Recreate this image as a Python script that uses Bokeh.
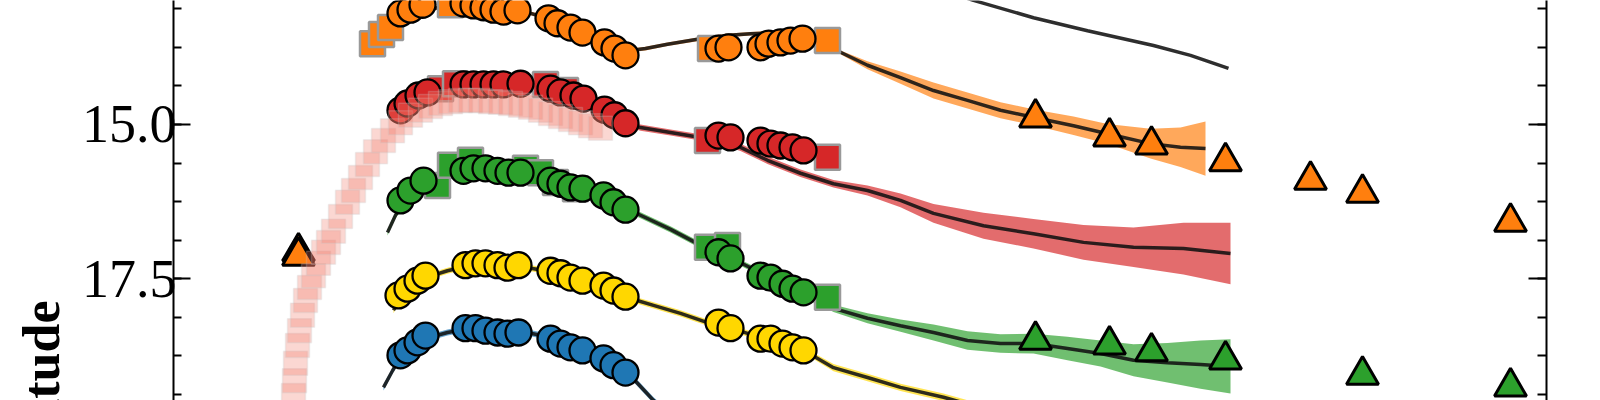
import numpy as np
from math import pi
from bokeh.plotting import figure
from bokeh.layouts import row
from bokeh.models import (Range1d, LinearAxis, SingleIntervalTicker, Label, CustomJSTickFormatter,
                          PrintfTickFormatter)
from bokeh.embed import file_html
from bokeh.resources import INLINE

# ---------------- data (phase in days, magnitudes) ----------------
orange_gp_t = [-9.8, -8.5, -7.0, -5.0, -2.5, 0.0, 2.5, 5.0, 7.5, 10.0, 12.5, 14.5, 16.0, 17.5, 19.7, 22.7,
               25.5, 28.0, 31.0, 33.7, 35.5, 37.0, 39.7, 43.0, 46.3, 49.7, 53.0, 56.5, 60.3, 63.7, 68.0, 71.0, 73.5]
orange_gp_m = [13.72, 13.53, 13.35, 13.19, 13.07, 13.04, 13.07, 13.15, 13.27, 13.43, 13.61, 13.75, 13.80, 13.77,
               13.70, 13.62, 13.56, 13.53, 13.51, 13.53, 13.64, 13.83, 14.04, 14.24, 14.45, 14.61, 14.77, 14.89,
               15.02, 15.15, 15.31, 15.37, 15.39]
orange_gp_s = [0.03, 0.03, 0.03, 0.03, 0.03, 0.03, 0.03, 0.03, 0.03, 0.03, 0.03, 0.03, 0.03, 0.03, 0.03, 0.03,
               0.03, 0.03, 0.03, 0.03, 0.03, 0.03, 0.065, 0.10, 0.13, 0.13, 0.13, 0.13, 0.15, 0.16, 0.24, 0.32, 0.44]

red_gp_t = [-7.5, -6.0, -4.5, -2.5, 0.0, 2.5, 5.0, 7.5, 10.0, 12.5, 14.5, 16.0, 17.0, 20.0, 23.0, 25.0, 27.0,
            29.7, 33.0, 36.3, 39.7, 43.0, 46.3, 51.3, 56.3, 61.3, 66.3, 71.3, 76.0]
red_gp_m = [14.81, 14.61, 14.50, 14.38, 14.32, 14.30, 14.34, 14.40, 14.51, 14.66, 14.82, 15.00, 15.05, 15.13,
            15.21, 15.28, 15.37, 15.58, 15.79, 15.96, 16.07, 16.23, 16.44, 16.64, 16.77, 16.91, 16.99, 17.01, 17.09]
red_gp_s = [0.05, 0.05, 0.05, 0.05, 0.05, 0.05, 0.05, 0.05, 0.05, 0.05, 0.05, 0.05, 0.05, 0.05, 0.05, 0.05,
            0.06, 0.06, 0.06, 0.06, 0.08, 0.11, 0.15, 0.21, 0.24, 0.28, 0.32, 0.42, 0.50]

green_gp_t = [-8.3, -7.5, -6.5, -5.0, -3.0, -0.5, 2.0, 4.5, 7.0, 9.5, 12.0, 14.0, 15.5, 17.0, 20.0, 22.7, 25.0,
              27.5, 30.0, 33.3, 35.0, 36.3, 39.7, 43.0, 46.3, 49.7, 53.0, 56.3, 59.7, 63.0, 66.3, 69.7, 73.0, 76.0]
green_gp_m = [16.75, 16.47, 16.23, 16.04, 15.86, 15.76, 15.75, 15.76, 15.83, 15.96, 16.07, 16.22, 16.36, 16.47,
              16.70, 16.93, 17.07, 17.28, 17.48, 17.77, 17.88, 17.98, 18.14, 18.26, 18.37, 18.50, 18.55, 18.55,
              18.63, 18.71, 18.82, 18.86, 18.89, 18.92]
green_gp_s = [0.05, 0.05, 0.05, 0.05, 0.05, 0.05, 0.05, 0.05, 0.05, 0.05, 0.05, 0.05, 0.05, 0.05, 0.05, 0.05,
              0.05, 0.05, 0.05, 0.05, 0.05, 0.06, 0.08, 0.10, 0.13, 0.15, 0.15, 0.16, 0.19, 0.21, 0.26, 0.32,
              0.39, 0.44]

yellow_gp_t = [-7.7, -7.0, -6.0, -4.5, -2.3, 0.0, 2.5, 5.0, 7.5, 10.0, 12.5, 14.5, 16.0, 18.3, 21.0, 23.7, 26.0,
               29.0, 32.0, 34.5, 36.3, 39.7, 43.0, 47.3, 52.0]
yellow_gp_m = [18.01, 17.80, 17.64, 17.48, 17.37, 17.28, 17.27, 17.30, 17.37, 17.48, 17.59, 17.71, 17.82, 17.93,
               18.06, 18.21, 18.30, 18.45, 18.60, 18.77, 18.94, 19.10, 19.26, 19.42, 19.63]
yellow_gp_s = [0.05, 0.05, 0.05, 0.05, 0.05, 0.05, 0.05, 0.05, 0.05, 0.05, 0.05, 0.05, 0.05, 0.05, 0.05, 0.05,
               0.05, 0.05, 0.05, 0.05, 0.06, 0.06, 0.06, 0.06, 0.06]

blue_gp_t = [-8.7, -7.8, -7.0, -6.0, -4.5, -2.3, 0.0, 2.5, 5.0, 7.5, 10.0, 12.5, 14.5, 16.0, 18.3, 20.0]
blue_gp_m = [19.26, 18.99, 18.77, 18.63, 18.47, 18.37, 18.30, 18.30, 18.35, 18.43, 18.58, 18.73, 18.89, 19.07,
             19.47, 19.71]
blue_gp_s = [0.05, 0.05, 0.05, 0.05, 0.05, 0.05, 0.05, 0.05, 0.05, 0.05, 0.05, 0.05, 0.05, 0.05, 0.05, 0.05]

black_gp_t = [43.0, 50.3, 56.3, 61.7, 68.3, 72.0, 75.8]
black_gp_m = [12.59, 12.99, 13.27, 13.48, 13.72, 13.88, 14.09]

orange_circ_t = [-7.0, -6.0, -4.8, -0.7, 0.3, 1.3, 2.3, 3.3, 4.7, 7.8, 8.7, 10.0, 11.2, 13.4, 14.4, 15.5,
                 24.8, 25.8, 29.0, 29.8, 31.0, 32.0, 33.2]
orange_circ_m = [13.20, 13.14, 13.06, 13.04, 13.07, 13.10, 13.14, 13.17, 13.15, 13.28, 13.36, 13.43, 13.51,
                 13.67, 13.77, 13.88, 13.77, 13.75, 13.75, 13.69, 13.67, 13.64, 13.61]
orange_sq_t = [-9.8, -8.9, -8.0, -2.0, 24.0, 35.7]
orange_sq_m = [13.69, 13.54, 13.43, 13.06, 13.77, 13.64]

red_circ_t = [-7.0, -6.3, -5.2, -4.3, -0.7, 0.3, 1.3, 2.3, 3.3, 5.0, 8.0, 9.0, 10.3, 11.3, 13.4, 14.4, 15.5,
              24.8, 26.0, 29.0, 30.0, 31.0, 32.2, 33.3]
red_circ_m = [14.77, 14.66, 14.53, 14.48, 14.35, 14.35, 14.35, 14.35, 14.35, 14.34, 14.42, 14.48, 14.53, 14.58,
              14.76, 14.85, 14.98, 15.18, 15.21, 15.26, 15.31, 15.34, 15.37, 15.42]
red_sq_t = [-3.0, -1.5, 7.5, 9.5, 23.7, 35.7]
red_sq_m = [14.42, 14.34, 14.35, 14.45, 15.26, 15.53]

green_circ_t = [-7.0, -6.0, -4.7, -0.7, 0.3, 1.5, 2.7, 3.8, 5.0, 8.0, 9.0, 10.0, 11.2, 13.3, 14.3, 15.5,
                24.8, 26.0, 29.0, 30.0, 31.2, 32.2, 33.3]
green_circ_m = [16.23, 16.07, 15.91, 15.75, 15.71, 15.71, 15.75, 15.78, 15.78, 15.91, 15.96, 16.02, 16.04,
                16.15, 16.26, 16.38, 17.07, 17.17, 17.45, 17.48, 17.58, 17.66, 17.72]
green_sq_t = [-3.3, -2.0, 0.0, 5.5, 7.0, 8.5, 10.5, 23.7, 25.7, 35.7]
green_sq_m = [15.99, 15.66, 15.58, 15.71, 15.78, 15.94, 16.04, 16.99, 16.96, 17.80]

yellow_circ_t = [-7.2, -6.3, -5.3, -4.5, -0.5, 0.5, 1.5, 2.7, 3.7, 4.8, 8.0, 9.0, 10.0, 11.2, 13.3, 14.3, 15.5,
                 24.8, 26.0, 29.0, 30.0, 31.2, 32.2, 33.3]
yellow_circ_m = [17.77, 17.66, 17.53, 17.45, 17.28, 17.25, 17.25, 17.28, 17.32, 17.28, 17.37, 17.41, 17.48,
                 17.53, 17.61, 17.69, 17.79, 18.21, 18.30, 18.47, 18.47, 18.55, 18.61, 18.66]

blue_circ_t = [-7.0, -6.3, -5.3, -4.5, -0.5, 0.5, 1.5, 2.7, 3.7, 4.8, 8.0, 9.0, 10.0, 11.2, 13.3, 14.3, 15.5]
blue_circ_m = [18.74, 18.66, 18.53, 18.42, 18.30, 18.30, 18.34, 18.37, 18.39, 18.37, 18.47, 18.55, 18.61,
               18.66, 18.79, 18.90, 19.02]

orange_tri_t = [-17.2, -17.2, 56.5, 63.9, 68.1, 75.5, 84.0, 89.2, 104.0]
orange_tri_m = [17.06, 17.13, 14.89, 15.20, 15.33, 15.60, 15.90, 16.11, 16.58]
green_tri_t = [56.5, 63.9, 68.1, 75.5, 89.2, 104.0]
green_tri_m = [18.49, 18.57, 18.68, 18.81, 19.06, 19.25]

trail_t = [-17.7, -17.6, -17.5, -17.3, -17.1, -16.8, -16.5, -16.1, -15.7, -15.2, -14.7, -14.2, -13.7, -13.0,
           -12.3, -11.7, -11.0, -10.3, -9.5, -8.7, -7.8, -7.0, -6.0, -5.0, -4.0, -3.0, -2.0, -1.0, 0.0, 1.0,
           2.0, 3.0, 4.0, 5.0, 6.0, 7.0, 8.0, 9.0, 10.0, 11.0, 12.0, 13.0]
trail_m = [19.39, 19.15, 18.87, 18.58, 18.34, 18.09, 17.85, 17.64, 17.45, 17.25, 17.07, 16.91, 16.73, 16.49,
           16.26, 16.07, 15.86, 15.65, 15.44, 15.26, 15.10, 14.97, 14.85, 14.77, 14.71, 14.66, 14.63, 14.61,
           14.61, 14.61, 14.63, 14.64, 14.66, 14.69, 14.72, 14.77, 14.82, 14.87, 14.92, 14.97, 15.02, 15.06]

y_label = "Magnitude"

C_ORANGE = "#ff7f0e"
C_RED = "#d62728"
C_GREEN = "#2ca02c"
C_YELLOW = "#ffd700"
C_BLUE = "#1f77b4"
FONT = "Liberation Serif"

# ---------------- narrow strip holding the (mostly off-window) y label ----------------
LABEL_W = 70
lf = figure(width=LABEL_W, height=400, output_backend="svg", toolbar_location=None,
            x_range=Range1d(0, 1), y_range=Range1d(0, 1), x_axis_location=None, y_axis_location=None,
            min_border_left=0, min_border_right=0, min_border_top=0, min_border_bottom=0)
lf.outline_line_color = None
lf.grid.visible = False
lf.add_layout(Label(x=41, y=100, x_units="screen", y_units="screen", text=y_label, angle=pi / 2,
                    text_align="right", text_baseline="alphabetic", text_font=FONT,
                    text_font_style="bold", text_font_size="52px", text_color="black"))

# ---------------- main light-curve panel ----------------
p = figure(width=1600 - LABEL_W, height=400, output_backend="svg", toolbar_location=None,
           x_range=Range1d(-29.7, 107.6), y_range=Range1d(19.472, 12.991),
           x_axis_location=None, y_axis_location=None,
           min_border_left=173 - LABEL_W, min_border_right=54, min_border_top=0, min_border_bottom=0)
p.outline_line_color = None
p.grid.visible = False
p.background_fill_color = "white"
p.border_fill_color = "white"

def style_axis(ax, tick_major, tick_minor):
    ax.axis_line_width = 2
    ax.axis_line_color = "black"
    ax.major_tick_line_width = 2
    ax.minor_tick_line_width = 2
    ax.major_tick_in = tick_major
    ax.major_tick_out = 0
    ax.minor_tick_in = tick_minor
    ax.minor_tick_out = 0

left = LinearAxis(ticker=SingleIntervalTicker(interval=2.5, num_minor_ticks=4),
                  formatter=PrintfTickFormatter(format="%.1f"))
style_axis(left, 17, 8)
left.major_label_standoff = -3
left.major_label_text_font = FONT
left.major_label_text_font_size = "54px"
left.major_label_text_color = "black"
p.add_layout(left, "left")

right = LinearAxis(ticker=SingleIntervalTicker(interval=2.5, num_minor_ticks=4),
                   formatter=CustomJSTickFormatter(code="return ''"))
style_axis(right, 18, 9)
p.add_layout(right, "right")

# GP bands
for t, m, s, c in [(orange_gp_t, orange_gp_m, orange_gp_s, C_ORANGE),
                   (red_gp_t, red_gp_m, red_gp_s, C_RED),
                   (green_gp_t, green_gp_m, green_gp_s, C_GREEN),
                   (yellow_gp_t, yellow_gp_m, yellow_gp_s, C_YELLOW),
                   (blue_gp_t, blue_gp_m, blue_gp_s, C_BLUE)]:
    mm = np.array(m)
    ss = np.array(s)
    p.varea(x=t, y1=mm - ss, y2=mm + ss, fill_color=c, fill_alpha=0.68)

# GP mean lines
for t, m in [(black_gp_t, black_gp_m), (orange_gp_t, orange_gp_m), (red_gp_t, red_gp_m),
             (green_gp_t, green_gp_m), (yellow_gp_t, yellow_gp_m), (blue_gp_t, blue_gp_m)]:
    p.line(t, m, line_color="#111111", line_width=3.5, line_alpha=0.88)

# squares (gray edges)
for t, m, c in [(orange_sq_t, orange_sq_m, C_ORANGE), (red_sq_t, red_sq_m, C_RED),
                (green_sq_t, green_sq_m, C_GREEN)]:
    p.scatter(t, m, marker="square", size=25, fill_color=c, line_color="#999999", line_width=2.5)

# circles
for t, m, c in [(orange_circ_t, orange_circ_m, C_ORANGE), (red_circ_t, red_circ_m, C_RED),
                (green_circ_t, green_circ_m, C_GREEN), (yellow_circ_t, yellow_circ_m, C_YELLOW),
                (blue_circ_t, blue_circ_m, C_BLUE)]:
    p.scatter(t, m, marker="circle", size=26, fill_color=c, line_color="black", line_width=2.3)

# triangles
for t, m, c in [(orange_tri_t, orange_tri_m, C_ORANGE), (green_tri_t, green_tri_m, C_GREEN)]:
    p.scatter(t, m, marker="triangle", size=32, fill_color=c, line_color="black", line_width=3)

# faint survey photometry trail
p.scatter(trail_t, trail_m, marker="square", size=24, fill_color="#f27a6a", fill_alpha=0.3,
          line_color="#c8c8c8", line_alpha=0.25, line_width=1.5)

layout = row(lf, p)
open("out.html", "w").write(file_html(layout, INLINE))
